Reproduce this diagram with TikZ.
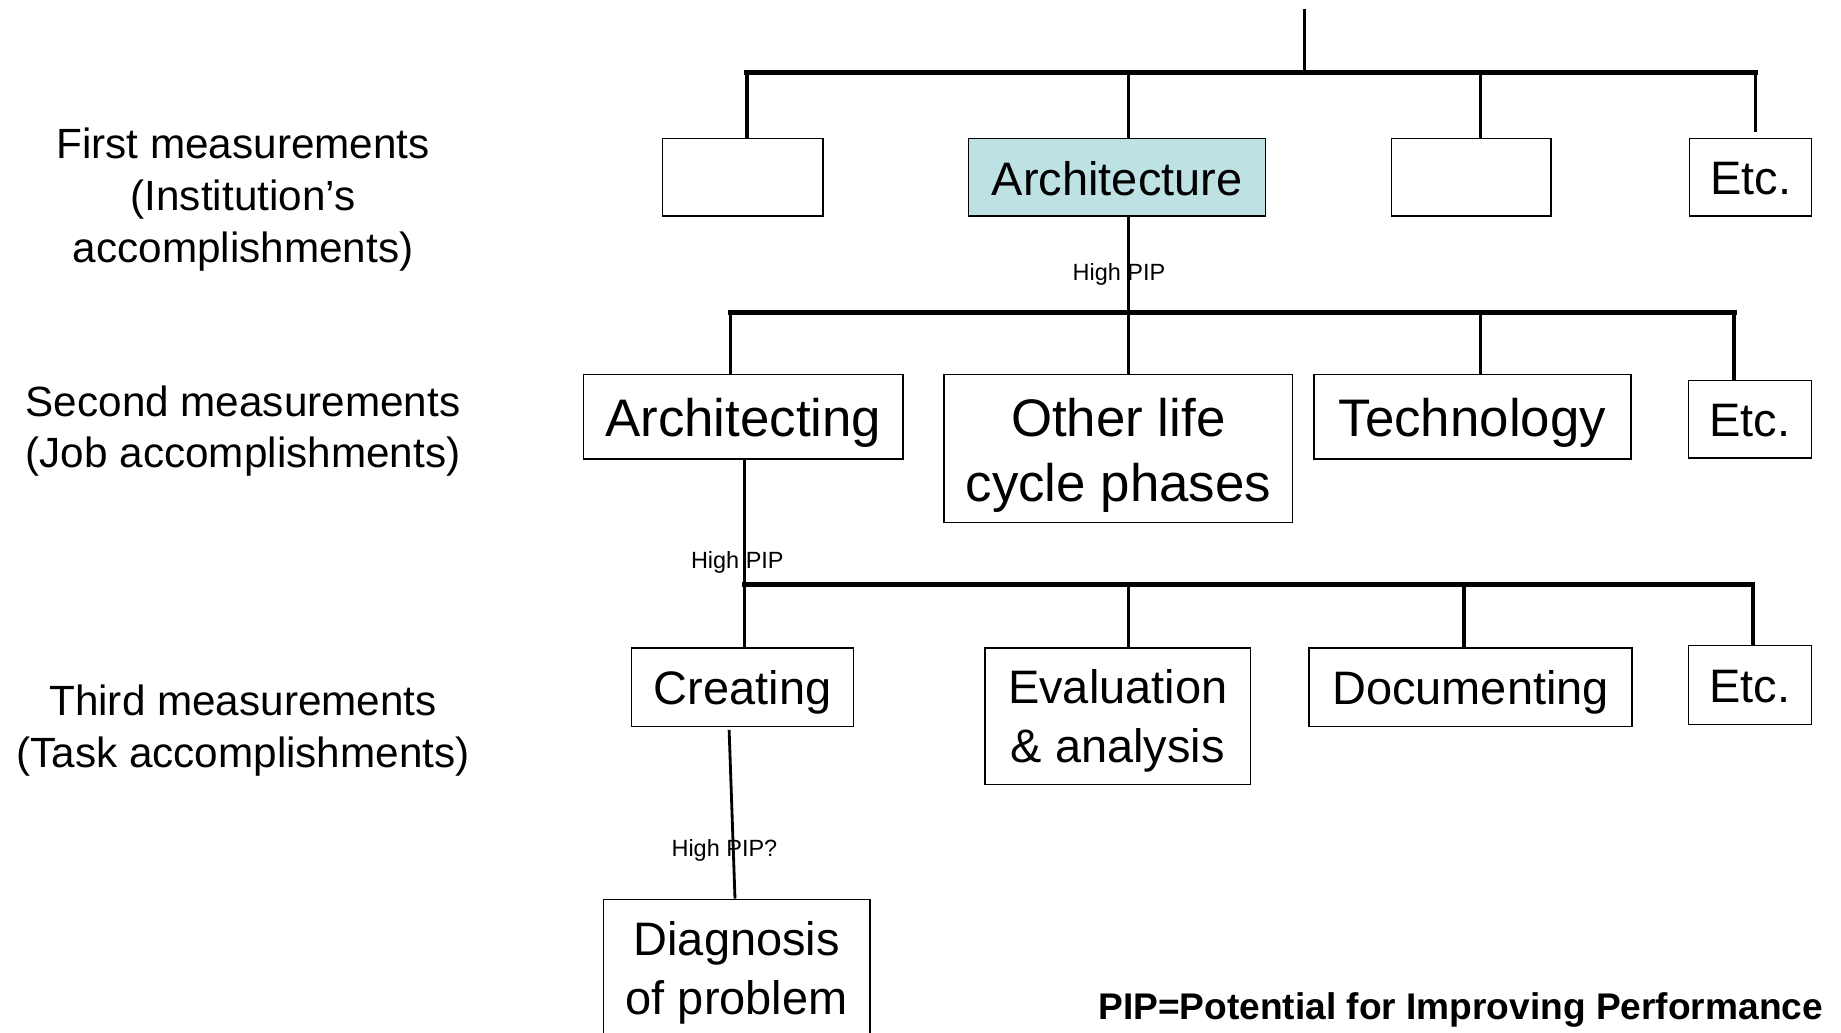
\documentclass[tikz,border=0pt]{standalone}
\usepackage{fontspec}
\setmainfont{Liberation Sans}
\definecolor{archfill}{RGB}{190,225,228}
\begin{document}
\begin{tikzpicture}[x=0.5pt,y=-0.5pt,
  box/.style={draw=black, line width=0.6pt, inner sep=0pt, fill=white},
  bx/.style 2 args={minimum width=#1*0.5pt, minimum height=#2*0.5pt},
  fA/.style={font=\fontsize{20}{25}\selectfont, align=center, inner sep=0pt},
  fB/.style={font=\fontsize{22.5}{27.5}\selectfont, align=center, inner sep=0pt},
  lab/.style={font=\fontsize{18}{22}\selectfont, align=center},
  pip/.style={font=\fontsize{10}{12}\selectfont, inner sep=0pt},
  vline/.style={line width=1.5pt},
  hbar/.style={line width=2pt, line cap=rect},
  thin/.style={line width=1.2pt}]
\useasboundingbox (0,0) rectangle (1568,879);
\clip (0,0) rectangle (1568,879);

% left labels
\node[lab] (L1) at (207,170) {First measurements\\(Institution’s\\accomplishments)};
\node[lab] (L2) at (207,367) {Second measurements\\(Job accomplishments)};
\node[lab] (L3) at (207,622) {Third measurements\\(Task accomplishments)};

% level 1
\node[box,bx={137}{66}] (a1) at (632.5,151) {};
\node[box,bx={253}{66},fill=archfill] (a2) at (951.5,151) {};
\node[box,bx={136}{66}] (a3) at (1253,151) {};
\node[box,bx={104}{66}] (a4) at (1491,151) {};
\node[fA] (a2t) at ([yshift=-0.5pt]a2.center) {Architecture};
\node[fA] (a4t) at ([yshift=-0.5pt]a4.center) {Etc.};

% level 2
\node[box,bx={272}{72}] (b1) at (633,355) {};
\node[box,bx={297}{126}] (b2) at (952.5,382) {};
\node[box,bx={270}{72}] (b3) at (1254,355) {};
\node[box,bx={105}{66}] (b4) at (1490.5,357) {};
\node[fB] (b1t) at ([yshift=-2.5pt]b1.center) {Architecting};
\node[fB] (b2t) at ([yshift=-3pt]b2.center) {Other life\\cycle phases};
\node[fB] (b3t) at ([yshift=-2.5pt]b3.center) {Technology};
\node[fA] (b4t) at ([yshift=-0.5pt]b4.center) {Etc.};

% level 3
\node[box,bx={189}{67}] (c1) at (632.5,585.5) {};
\node[box,bx={226}{116}] (c2) at (952,610) {};
\node[box,bx={275}{67}] (c3) at (1252.5,585.5) {};
\node[box,bx={105}{67}] (c4) at (1490.5,583.5) {};
\node[fA] (c1t) at ([yshift=-2pt]c1.center) {Creating};
\node[fA] (c2t) at ([yshift=-2pt]c2.center) {Evaluation\\\& analysis};
\node[fA] (c3t) at ([yshift=-2pt]c3.center) {Documenting};
\node[fA] (c4t) at ([yshift=-0.5pt]c4.center) {Etc.};

% level 4
\node[box,bx={227}{119}] (d1) at (627.5,825.5) {};
\node[fA] (d1t) at ([yshift=-1.5pt]d1.center) {Diagnosis\\of problem};

% bar coordinates
\coordinate (top) at (1111,8);
\coordinate (r1) at (1111,62);
\coordinate (r1L) at (636,62);
\coordinate (r1R) at (1495,62);
\coordinate (r1a) at (636,62);
\coordinate (r1b) at (961,62);
\coordinate (r1c) at (1261,62);
\coordinate (r1d) at (1495,62);

\coordinate (r2) at (961,266);
\coordinate (r2L) at (622,266);
\coordinate (r2R) at (1477,266);
\coordinate (r2b) at (961,266);
\coordinate (r2c) at (1261,266);

\coordinate (r3) at (634,498);
\coordinate (r3R) at (1493,498);
\coordinate (r3b) at (961,498);
\coordinate (r3c) at (1247,498);

% level 0 -> 1
\draw[vline] (top) -- (r1);
\draw[hbar] (r1L) -- (r1R);
\draw[vline] (r1a) -- (r1a |- a1.north);
\draw[vline] (r1b) -- (r1b |- a2.north);
\draw[vline] (r1c) -- (r1c |- a3.north);
\draw[vline] (r1d) -- ([yshift=2.5pt]r1d |- a4.north);

% level 1 -> 2
\node[pip] (p1) at (953,234) {High PIP};
\draw[vline] (r2 |- a2.south) -- (r2);
\draw[hbar] (r2L) -- (r2R);
\draw[vline] (r2L) -- (r2L |- b1.north);
\draw[vline] (r2b) -- (r2b |- b2.north);
\draw[vline] (r2c) -- (r2c |- b3.north);
\draw[vline] (r2R) -- (r2R |- b4.north);

% level 2 -> 3
\node[pip] (p2) at (628,479) {High PIP};
\draw[vline] (r3 |- b1.south) -- (r3);
\draw[hbar] (r3) -- (r3R);
\draw[vline] (r3) -- (r3 |- c1.north);
\draw[vline] (r3b) -- (r3b |- c2.north);
\draw[vline] (r3c) -- (r3c |- c3.north);
\draw[vline] (r3R) -- (r3R |- c4.north);

% level 3 -> 4
\node[pip] (p3) at (617,724) {High PIP?};
\draw[thin] ([xshift=-5.75pt,yshift=-1pt]c1.south) -- ([xshift=-0.75pt]d1.north);

% footnote
\node[font=\bfseries\fontsize{15.8}{19}\selectfont] (fn) at (1244,860) {PIP=Potential for Improving Performance};
\end{tikzpicture}
\end{document}
